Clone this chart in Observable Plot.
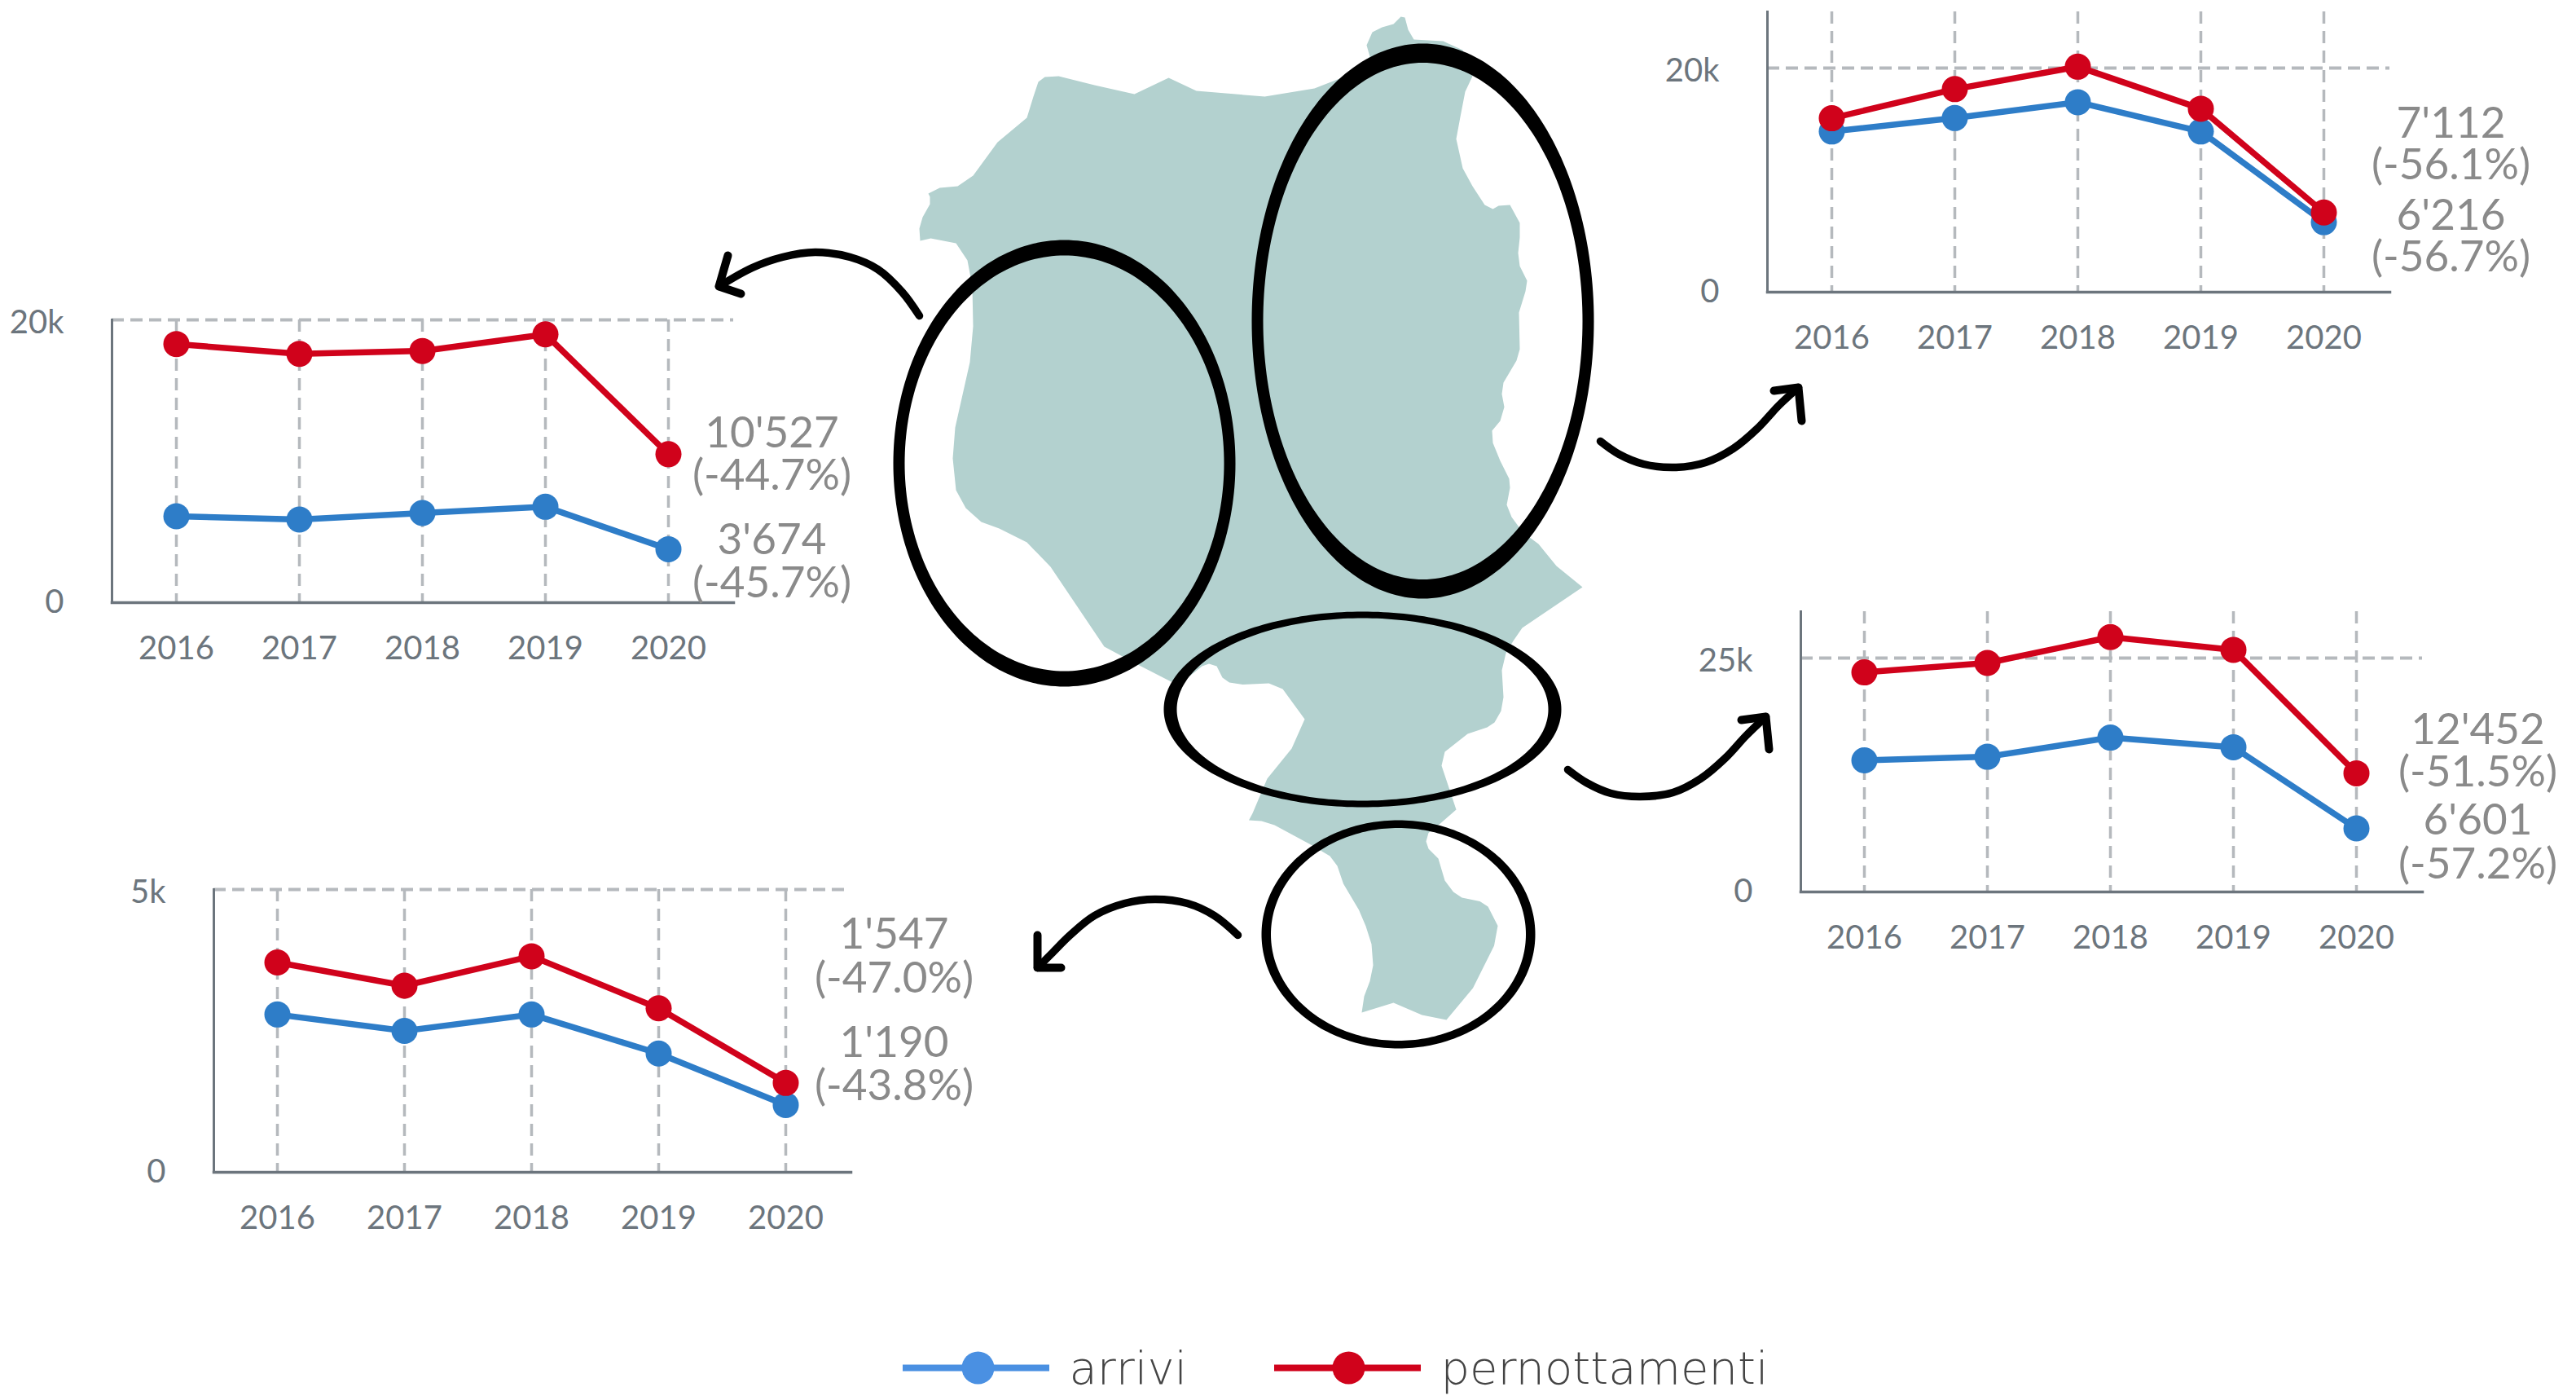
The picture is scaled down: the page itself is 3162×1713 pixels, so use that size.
<!DOCTYPE html>
<html>
<head>
<meta charset="utf-8">
<script src="https://cdn.jsdelivr.net/npm/d3@7"></script>
<script src="https://cdn.jsdelivr.net/npm/@observablehq/plot@0.6"></script>
<style>
html,body{margin:0;padding:0;background:#fff;overflow:hidden}
#stage{position:relative;width:3162px;height:1713px}
#stage>svg{position:absolute}
</style>
</head>
<body>
<div id="stage"></div>
<script>
// ---------- data ----------
const years = [2016, 2017, 2018, 2019, 2020];

const westArrivi = [6110, 5880, 6340, 6780, 3780];
const westPernottamenti = [18290, 17600, 17800, 18980, 10500];
const northArrivi = [14340, 15540, 16950, 14340, 6250];
const northPernottamenti = [15520, 18120, 20120, 16370, 7112];
const centreArrivi = [14070, 14450, 16500, 15470, 6790];
const centrePernottamenti = [23470, 24480, 27240, 25880, 12680];
const southArrivi = [2790, 2500, 2790, 2100, 1190];
const southPernottamenti = [3710, 3300, 3820, 2900, 1580];

const westLabels = ["10'527", "(-44.7%)", "3'674", "(-45.7%)"];
const northLabels = ["7'112", "(-56.1%)", "6'216", "(-56.7%)"];
const centreLabels = ["12'452", "(-51.5%)", "6'601", "(-57.2%)"];
const southLabels = ["1'547", "(-47.0%)", "1'190", "(-43.8%)"];

const legendNames = ["arrivi", "pernottamenti"];

// outline of the region on the drawing's own grid
const regionOutline = [
[1129,295],[1128,280],[1132,266],[1141,250],[1141,241],[1139,237],[1153,230],[1175,228],[1194,215],[1224,174],[1260,144],[1268,118],[1274,100],[1282,94],[1299,93],[1343,104],[1392,115],[1434,95],[1468,111],[1552,118],[1613,108],[1654,92],[1681,69],[1677,55],[1684,39],[1696,33],[1710,29],[1719,20],[1724,21],[1728,36],[1735,48],[1771,50],[1795,61],[1807,93],[1798,112],[1792,143],[1787,170],[1795,206],[1807,228],[1822,251],[1832,256],[1839,252],[1853,251],[1865,273],[1865,291],[1863,310],[1865,326],[1874,344],[1872,357],[1864,383],[1865,428],[1861,442],[1845,469],[1843,483],[1846,499],[1841,516],[1831,528],[1832,543],[1841,565],[1852,587],[1853,598],[1849,619],[1855,634],[1869,653],[1888,667],[1910,694],[1942,720],[1868,770],[1857,786],[1848,801],[1843,822],[1845,855],[1842,872],[1834,886],[1825,892],[1801,900],[1773,922],[1769,939],[1778,966],[1787,993],[1767.5,1010],[1753,1021.5],[1750,1032],[1753,1041],[1765,1053],[1773,1080],[1783.5,1094],[1794,1101],[1816,1105.5],[1826,1112],[1838,1135.5],[1833.5,1160],[1807.5,1212],[1775,1251],[1745,1245],[1710,1230],[1671,1242],[1674,1222],[1681,1203.5],[1685,1184],[1683,1158],[1676,1136],[1667.5,1116],[1648.5,1084],[1641,1062],[1632,1050],[1608.5,1036],[1564,1012],[1548,1007],[1532.5,1006],[1537,997.5],[1555,955],[1585,918],[1601,882],[1574,845],[1557,838],[1525,839.5],[1508.5,837],[1500,831],[1493,817],[1483.5,814],[1475,817],[1460,829],[1437,836],[1396,815],[1355,793],[1289,695],[1260,665],[1226,648],[1204,640],[1185,623],[1173,601],[1169,562],[1172,524],[1190,444],[1194,400],[1193,351],[1187,319],[1173,298],[1142,292]
];

// ---------- style ----------
const ink = "#000000";
const landColor = "#b3d1cf";
const axisColor = "#6c757d";
const gridColor = "#b5b9bd";
const labelColor = "#8a8a8a";
const blue = "#2e7dc8";
const red = "#d0021b";
const legendBlue = "#4a90e2";
const legendText = "#444444";
const W = 3162, H = 1713;
const stage = document.getElementById("stage");

// ---------- base drawing: map, ellipses, arrows, legend ----------
function ring(cx, cy, rxO, ryO, rxI, ryI) {
  const n = 240, pts = [];
  for (let i = 0; i <= n; i++) { const t = 2 * Math.PI * i / n; pts.push([cx + rxO * Math.cos(t), cy + ryO * Math.sin(t)]); }
  for (let i = n; i >= 0; i--) { const t = 2 * Math.PI * i / n; pts.push([cx + rxI * Math.cos(t), cy + ryI * Math.sin(t)]); }
  return pts;
}
const rings = [
  ring(1306, 568, 210, 274, 196, 255),
  ring(1746, 393.5, 210, 340.5, 196, 317),
  ring(1672, 870, 244, 120, 228, 112),
  ring(1716, 1146, 168, 140, 156.5, 130.5)
];
const arrowShafts = [
  [[1128,387],[1107,358],[1077,330],[1043,315],[1000,309],[960,315],[923,328],[882,351]],
  [[1964,541],[1987,557],[2017,569],[2057,573],[2093,567],[2127,550],[2157,525],[2183,497],[2207,475]],
  [[1924,944],[1947,960],[1977,973],[2013,977],[2053,972],[2087,955],[2117,930],[2143,902],[2167,879]],
  [[1519,1147],[1490,1123],[1457,1108],[1417,1103],[1380,1108],[1343,1123],[1313,1147],[1290,1170],[1273,1187]]
];
const arrowHeads = [
  [[893,313],[882,351],[909,360]],
  [[2177,479],[2207,475],[2211,516]],
  [[2137,883],[2167,879],[2171,919]],
  [[1273,1147],[1273,1187],[1302,1187]]
];
const px = d => d[0], py = d => d[1];
const legendY = 1678;
const legendRows = [
  {name: legendNames[0], x1: 1108, x2: 1288, cx: 1200, tx: 1312, color: legendBlue},
  {name: legendNames[1], x1: 1564, x2: 1744, cx: 1655, tx: 1768, color: red}
];
const base = Plot.plot({
  width: W, height: H, margin: 0,
  x: {domain: [0, W], range: [0, W], axis: null},
  y: {domain: [0, H], range: [0, H], axis: null},
  style: {background: "transparent"},
  marks: [
    Plot.line(regionOutline, {x: px, y: py, fill: landColor, stroke: "none"}),
    ...rings.map(r => Plot.line(r, {x: px, y: py, fill: ink, stroke: "none"})),
    ...arrowShafts.map(a => Plot.line(a, {x: px, y: py, curve: "catmull-rom", stroke: ink, strokeWidth: 9.5, strokeLinecap: "round"})),
    ...arrowHeads.map(a => Plot.line(a, {x: px, y: py, stroke: ink, strokeWidth: 10, strokeLinecap: "round", strokeLinejoin: "round"})),
    ...legendRows.flatMap(r => [
      Plot.ruleY([legendY], {x1: r.x1, x2: r.x2, stroke: r.color, strokeWidth: 8}),
      Plot.dot([[r.cx, legendY]], {x: px, y: py, r: 20, fill: r.color, stroke: "none"}),
      Plot.text([r.name], {x: r.tx, y: legendY + 19, text: d => d, textAnchor: "start", lineAnchor: "bottom", fontFamily: "DejaVu Sans", fontWeight: 200, fontSize: 56, fill: legendText})
    ])
  ]
});
base.style.left = "0px"; base.style.top = "0px";
stage.appendChild(base);

// ---------- small multiples ----------
function panel(c) {
  const rows = s => years.map((year, i) => ({year, value: s[i]}));
  const lineAndDots = (s, color) => [
    Plot.line(rows(s), {x: "year", y: "value", stroke: color, strokeWidth: 7.5}),
    Plot.dot(rows(s), {x: "year", y: "value", r: 16, fill: color, stroke: "none"})
  ];
  const mLeft = 130, mTop = Math.min(40, c.axisTop);
  const left = c.axisX - mLeft, top = c.axisTop - mTop;
  const width = c.axisEnd - left + 260, height = c.base - top + 90;
  const p = Plot.plot({
    width, height,
    marginLeft: mLeft, marginTop: mTop, marginRight: 260, marginBottom: 90,
    x: {type: "point", padding: 0, domain: years, range: [c.x0 - left, c.x4 - left], axis: null},
    y: {domain: [0, c.top], range: [c.base - top, c.gridY - top], axis: null},
    style: {background: "transparent", fontFamily: "Lato"},
    marks: [
      Plot.ruleX(years, {x: d => d, stroke: gridColor, strokeWidth: 3.5, strokeDasharray: "15 9"}),
      Plot.ruleY([c.top], {stroke: gridColor, strokeWidth: 4, strokeDasharray: "15 8"}),
      Plot.frame({anchor: "left", stroke: axisColor, strokeWidth: 3}),
      Plot.frame({anchor: "bottom", stroke: axisColor, strokeWidth: 3.5}),
      Plot.axisY({ticks: [0], tickSize: 0, tickPadding: 59, tickFormat: () => "0", label: null, fontSize: 40, color: axisColor}),
      Plot.axisY({ticks: [c.top], tickSize: 0, tickPadding: 59, tickFormat: () => c.topLabel, label: null, fontSize: 40, color: axisColor, dy: 4}),
      Plot.axisX({ticks: years, tickSize: 0, tickPadding: 41, tickFormat: d => String(d), label: null, fontSize: 40, color: axisColor}),
      ...lineAndDots(c.arrivi, blue),
      ...lineAndDots(c.pernottamenti, red),
      ...c.labels.map((t, i) => Plot.text([t], {
        frameAnchor: "top-left", dx: c.labelX - c.axisX, dy: c.labelY[i] - c.axisTop,
        text: d => d, textAnchor: "middle", lineAnchor: "middle", fontSize: 53, fill: labelColor
      }))
    ]
  });
  p.style.left = left + "px"; p.style.top = top + "px";
  stage.appendChild(p);
}

panel({arrivi: westArrivi, pernottamenti: westPernottamenti, labels: westLabels, top: 20000, topLabel: "20k",
  axisX: 137, axisEnd: 900, axisTop: 392, gridY: 392, base: 739, x0: 215, x4: 821, labelX: 947, labelY: [532, 584, 663, 716]});
panel({arrivi: northArrivi, pernottamenti: northPernottamenti, labels: northLabels, top: 20000, topLabel: "20k",
  axisX: 2169, axisEnd: 2933, axisTop: 14, gridY: 83, base: 358, x0: 2247, x4: 2853, labelX: 3008, labelY: [152, 203, 265, 316]});
panel({arrivi: centreArrivi, pernottamenti: centrePernottamenti, labels: centreLabels, top: 25000, topLabel: "25k",
  axisX: 2210, axisEnd: 2973, axisTop: 750, gridY: 807, base: 1094, x0: 2287.5, x4: 2892.5, labelX: 3041, labelY: [896, 948, 1007, 1061]});
panel({arrivi: southArrivi, pernottamenti: southPernottamenti, labels: southLabels, top: 5000, topLabel: "5k",
  axisX: 262, axisEnd: 1044, axisTop: 1091, gridY: 1091, base: 1438, x0: 339, x4: 964, labelX: 1097, labelY: [1147, 1201, 1280, 1333]});
</script>
</body>
</html>
